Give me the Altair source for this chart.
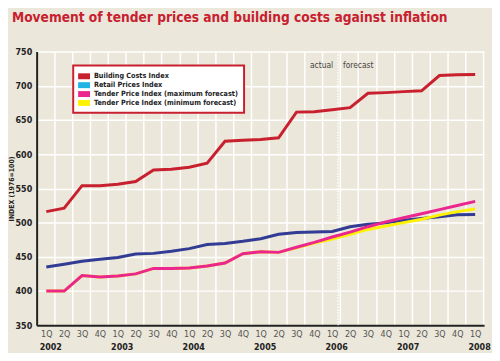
import altair as alt
import pandas as pd

# ---- data ----
quarters = ["1Q", "2Q", "3Q", "4Q"] * 6 + ["1Q"]
years = ["2002", "2003", "2004", "2005", "2006", "2007", "2008"]

building_costs = [516, 521, 554, 554, 556, 560, 577, 578, 581, 587, 619, 620.5, 621.5,
                  624, 661.5, 662, 665, 668, 689, 690, 691.5, 692.7, 715, 716, 716.6]
retail_prices = [435, 439, 443.5, 446.3, 449, 454, 455, 458, 462, 468, 469.5, 472.7, 476.5,
                 483, 485.5, 486.4, 487, 494, 497.6, 499.6, 503.5, 506, 508.5, 511.5, 511.7]
tpi_max = [400, 400, 422.5, 420.5, 422, 425, 433, 433, 433.5, 436.6, 441, 454.5, 457.5,
           456.5, 464, 471, 479, 486, 494, 501, 507, 513, 519, 525, 531]
tpi_min = [400, 400, 422.5, 420.5, 422, 425, 433, 433, 433.5, 436.6, 441, 454.5, 457.5,
           456.5, 463, 470, 476, 483, 490, 495, 500, 505, 511, 516, 520]

series_names = ["Building Costs Index", "Retail Prices Index",
                "Tender Price Index (maximum forecast)", "Tender Price Index (minimum forecast)"]
line_colors = ["#c8202f", "#323c94", "#ec268f", "#fff200"]
legend_colors = ["#c8202f", "#1fb3e6", "#ec268f", "#fff200"]
draw_order = [0, 1, 3, 2]

forecast_start = 16.33
annotation_y = 731

BG = "#ebe7da"
RED = "#c8202f"
FONT = "Liberation Sans Narrow, DejaVu Sans Condensed, sans-serif"

rows = []
for name, vals in zip(series_names, [building_costs, retail_prices, tpi_max, tpi_min]):
    for i, v in enumerate(vals):
        rows.append({"idx": i, "series": name, "value": v})
df = pd.DataFrame(rows)

xscale = alt.Scale(domain=[-0.54, 24.5], nice=False, zero=False)
yscale = alt.Scale(domain=[350, 750], nice=False, zero=False)

q_expr = "[" + ",".join("'%s'" % q for q in quarters) + "][datum.value]"
y_expr = "[" + ",".join("'%s'" % y for y in years) + "][datum.value / 4]"

yaxis = alt.Axis(values=list(range(350, 751, 50)), title="INDEX (1976=100)",
                 titleFont=FONT, titleFontSize=7, titleFontWeight="bold", titleColor="#222",
                 titlePadding=1, labelFont=FONT, labelFontSize=9, labelFontWeight="bold",
                 labelColor="#222", labelPadding=5, ticks=False, domainColor="#222",
                 domainWidth=2, grid=True, gridColor="white", gridWidth=1.5)


def Y():
    return alt.Y("value:Q", scale=yscale, axis=yaxis)


line_layers = []
for k in draw_order:
    if k == 0:
        enc_x = alt.X("idx:Q", scale=xscale,
                      axis=alt.Axis(values=list(range(25)), labelExpr=q_expr, orient="bottom",
                                    labelFont=FONT, labelFontSize=9, labelColor="#555",
                                    labelPadding=4, ticks=False, grid=False, domainColor="#222",
                                    domainWidth=2, title=None))
    else:
        enc_x = alt.X("idx:Q", scale=xscale, axis=None)
    line_layers.append(
        alt.Chart(df).transform_filter(alt.datum.series == series_names[k])
        .mark_line(color=line_colors[k], strokeWidth=3, strokeJoin="miter")
        .encode(x=enc_x, y=Y())
    )

# vertical grid (between quarters) + year labels axis
grid_df = pd.DataFrame({"idx": [k + 0.45 for k in range(25)]})
grid_layer = alt.Chart(grid_df).mark_rule(opacity=0).encode(
    x=alt.X("idx:Q", scale=xscale,
            axis=alt.Axis(values=[k + 0.45 for k in range(25)], orient="bottom", labels=False,
                          ticks=False, domain=False, grid=True, gridColor="white",
                          gridWidth=1.5, title=None))
)

year_df = pd.DataFrame({"idx": [0, 4, 8, 12, 16, 20, 24]})
year_layer = alt.Chart(year_df).mark_rule(opacity=0).encode(
    x=alt.X("idx:Q", scale=xscale,
            axis=alt.Axis(values=[0, 4, 8, 12, 16, 20, 24], labelExpr=y_expr, orient="bottom",
                          labelFont=FONT, labelFontSize=9, labelFontWeight="bold",
                          labelColor="#222", labelPadding=18, labelOffset=4, ticks=False,
                          domain=False, grid=False, title=None))
)

divider_df = pd.DataFrame({"idx": [forecast_start]})
divider = alt.Chart(divider_df).mark_rule(color="white", strokeWidth=1.5, strokeDash=[1.5, 1.5]).encode(
    x=alt.X("idx:Q", scale=xscale, axis=None)
)

ann_df = pd.DataFrame({"idx": [forecast_start, forecast_start], "value": [annotation_y, annotation_y],
                       "label": ["actual", "forecast"], "side": ["l", "r"]})
ann_left = alt.Chart(ann_df).transform_filter(alt.datum.side == "l").mark_text(
    align="right", baseline="middle", dx=-5, font=FONT, fontSize=8.5, color="#444").encode(
    x=alt.X("idx:Q", scale=xscale, axis=None), y=Y(), text="label:N")
ann_right = alt.Chart(ann_df).transform_filter(alt.datum.side == "r").mark_text(
    align="left", baseline="middle", dx=5, font=FONT, fontSize=8.5, color="#444").encode(
    x=alt.X("idx:Q", scale=xscale, axis=None), y=Y(), text="label:N")

legend_layer = alt.Chart(df).mark_square(opacity=0, size=1).encode(
    x=alt.X("idx:Q", scale=xscale, axis=None),
    y=Y(),
    fill=alt.Fill("series:N",
                  scale=alt.Scale(domain=series_names, range=legend_colors),
                  legend=alt.Legend(title=None, orient="none", legendX=37, legendY=14,
                                    fillColor="white", padding=6,
                                    symbolType="M-1.2,-0.6H1.2V0.6H-1.2Z",
                                    symbolSize=100, symbolOpacity=1, symbolStrokeWidth=0,
                                    labelFont=FONT, labelFontSize=7.3, labelFontWeight="bold",
                                    labelColor="#222", labelOffset=5, labelLimit=300,
                                    rowPadding=0))
)

chart = alt.layer(grid_layer, year_layer, divider, *line_layers, ann_left, ann_right,
                  legend_layer).resolve_axis(x="independent").properties(
    width=453, height=277,
    padding={"left": 29, "top": 42, "right": 8, "bottom": 26},
    autosize=alt.AutoSizeParams(type="none"),
    background=BG,
    title=alt.TitleParams("Movement of tender prices and building costs against inflation",
                          anchor="start", frame="group", dx=-25, offset=9, baseline="bottom",
                          font=FONT, fontSize=13.8, fontWeight="bold", color=RED),
).configure_view(strokeWidth=0, fill=BG).configure_legend(strokeColor=RED, strokeWidth=2)

chart.save("out.html", embed_options={"renderer": "svg", "actions": False})
